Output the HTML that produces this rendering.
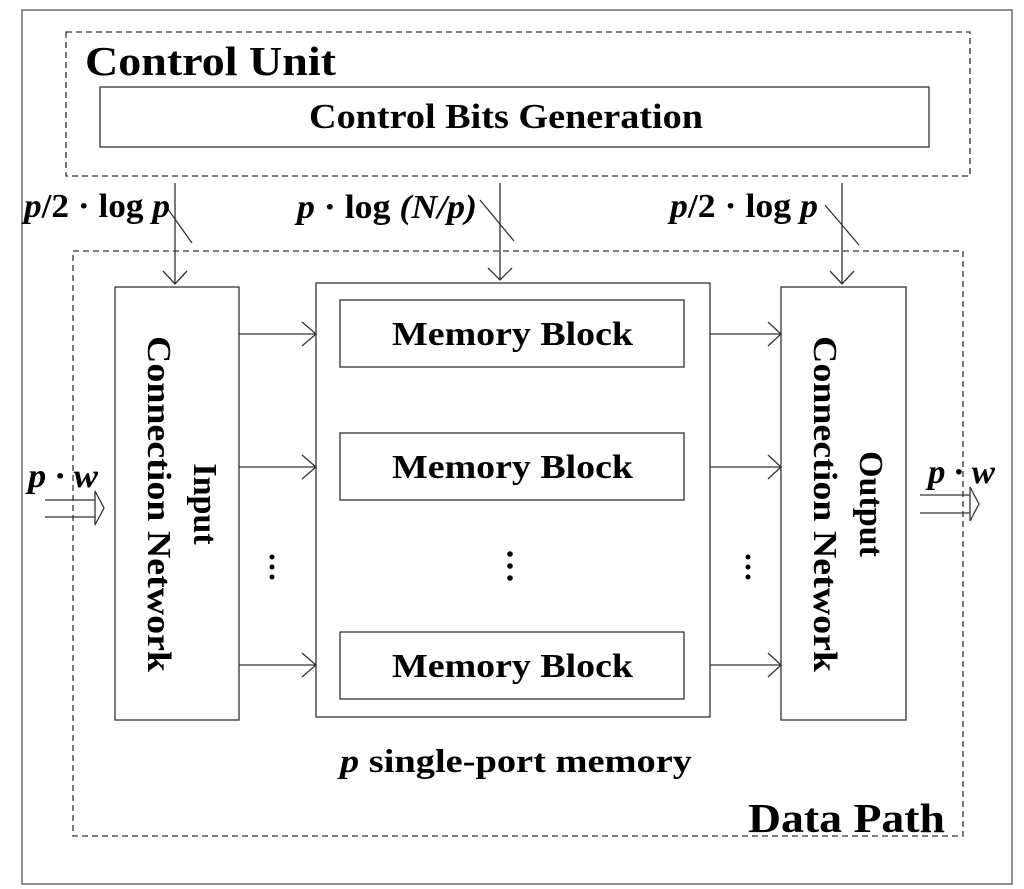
<!DOCTYPE html>
<html><head><meta charset="utf-8"><style>
html,body{margin:0;padding:0;background:#fff;}
svg{display:block;}
text{font-family:"Liberation Serif",serif;font-weight:bold;fill:#000;}
</style></head><body>
<svg width="1024" height="889" viewBox="0 0 1024 889" xmlns="http://www.w3.org/2000/svg">
<g fill="none" stroke="#333" stroke-width="1.3">
<rect x="22" y="10" width="990" height="874" stroke="#555"/>
<rect x="66" y="32" width="904" height="144" stroke-dasharray="6,4"/>
<rect x="100" y="87" width="829" height="60"/>
<rect x="73" y="251" width="890" height="585" stroke-dasharray="6,4"/>
<rect x="115" y="287" width="124" height="433"/>
<rect x="316" y="283" width="394" height="434"/>
<rect x="340" y="300" width="344" height="67"/>
<rect x="340" y="433" width="344" height="67"/>
<rect x="340" y="632" width="344" height="67"/>
<rect x="781" y="287" width="125" height="433"/>
<!-- control arrows -->
<path d="M175 183V284M163 271L175 284L187 271M165 205L192 243"/>
<path d="M500 183V280M488 268L500 280L512 268M480 200L514 241"/>
<path d="M842 183V284M830 271L842 284L854 271M825 205L859 245"/>
<!-- horizontal arrows -->
<path d="M239 334H316M302 322L316 334L302 346"/>
<path d="M239 467H316M302 455L316 467L302 479"/>
<path d="M239 665H316M302 653L316 665L302 677"/>
<path d="M710 334H781M768 322L781 334L768 346"/>
<path d="M710 467H781M768 455L781 467L768 479"/>
<path d="M710 665H781M768 653L781 665L768 677"/>
<!-- double arrows -->
<path d="M45 500H95M45 517H95M95 491L104 508L95 525Z" fill="#fff"/>
<path d="M920 495H970M920 513H970M970 487L979 504L970 521Z" fill="#fff"/>
</g>
<g fill="#000">
<circle cx="272" cy="557" r="2.5"/><circle cx="272" cy="567" r="2.5"/><circle cx="272" cy="577" r="2.5"/>
<circle cx="510" cy="554" r="2.8"/><circle cx="510" cy="566" r="2.8"/><circle cx="510" cy="578" r="2.8"/>
<circle cx="748" cy="557" r="2.5"/><circle cx="748" cy="567" r="2.5"/><circle cx="748" cy="577" r="2.5"/>
</g>
<text x="85" y="75" font-size="41" textLength="251" lengthAdjust="spacingAndGlyphs">Control Unit</text>
<text x="309" y="128" font-size="35" textLength="394" lengthAdjust="spacingAndGlyphs">Control Bits Generation</text>
<text x="392" y="345" font-size="34" textLength="241" lengthAdjust="spacingAndGlyphs">Memory Block</text>
<text x="392" y="478" font-size="34" textLength="241" lengthAdjust="spacingAndGlyphs">Memory Block</text>
<text x="392" y="677" font-size="34" textLength="241" lengthAdjust="spacingAndGlyphs">Memory Block</text>
<text x="340" y="772" font-size="33" textLength="352" lengthAdjust="spacingAndGlyphs"><tspan font-style="italic">p</tspan> single-port memory</text>
<text x="748" y="832" font-size="41" textLength="197" lengthAdjust="spacingAndGlyphs">Data Path</text>
<text x="24" y="217" font-size="34" textLength="146" lengthAdjust="spacingAndGlyphs"><tspan font-style="italic">p</tspan>/2 · log <tspan font-style="italic">p</tspan></text>
<text x="297" y="218" font-size="34" textLength="180" lengthAdjust="spacingAndGlyphs"><tspan font-style="italic">p</tspan> · log <tspan font-style="italic">(N/p)</tspan></text>
<text x="670" y="217" font-size="34" textLength="148" lengthAdjust="spacingAndGlyphs"><tspan font-style="italic">p</tspan>/2 · log <tspan font-style="italic">p</tspan></text>
<text x="28" y="487" font-size="34" font-style="italic" textLength="70" lengthAdjust="spacingAndGlyphs">p · w</text>
<text x="928" y="483" font-size="34" font-style="italic" textLength="67" lengthAdjust="spacingAndGlyphs">p · w</text>
<text transform="translate(194,504) rotate(90)" font-size="34" text-anchor="middle">Input</text>
<text transform="translate(148,504) rotate(90)" font-size="34" text-anchor="middle" textLength="336" lengthAdjust="spacingAndGlyphs">Connection Network</text>
<text transform="translate(860,504) rotate(90)" font-size="34" text-anchor="middle">Output</text>
<text transform="translate(814,504) rotate(90)" font-size="34" text-anchor="middle" textLength="336" lengthAdjust="spacingAndGlyphs">Connection Network</text>
</svg>
</body></html>
